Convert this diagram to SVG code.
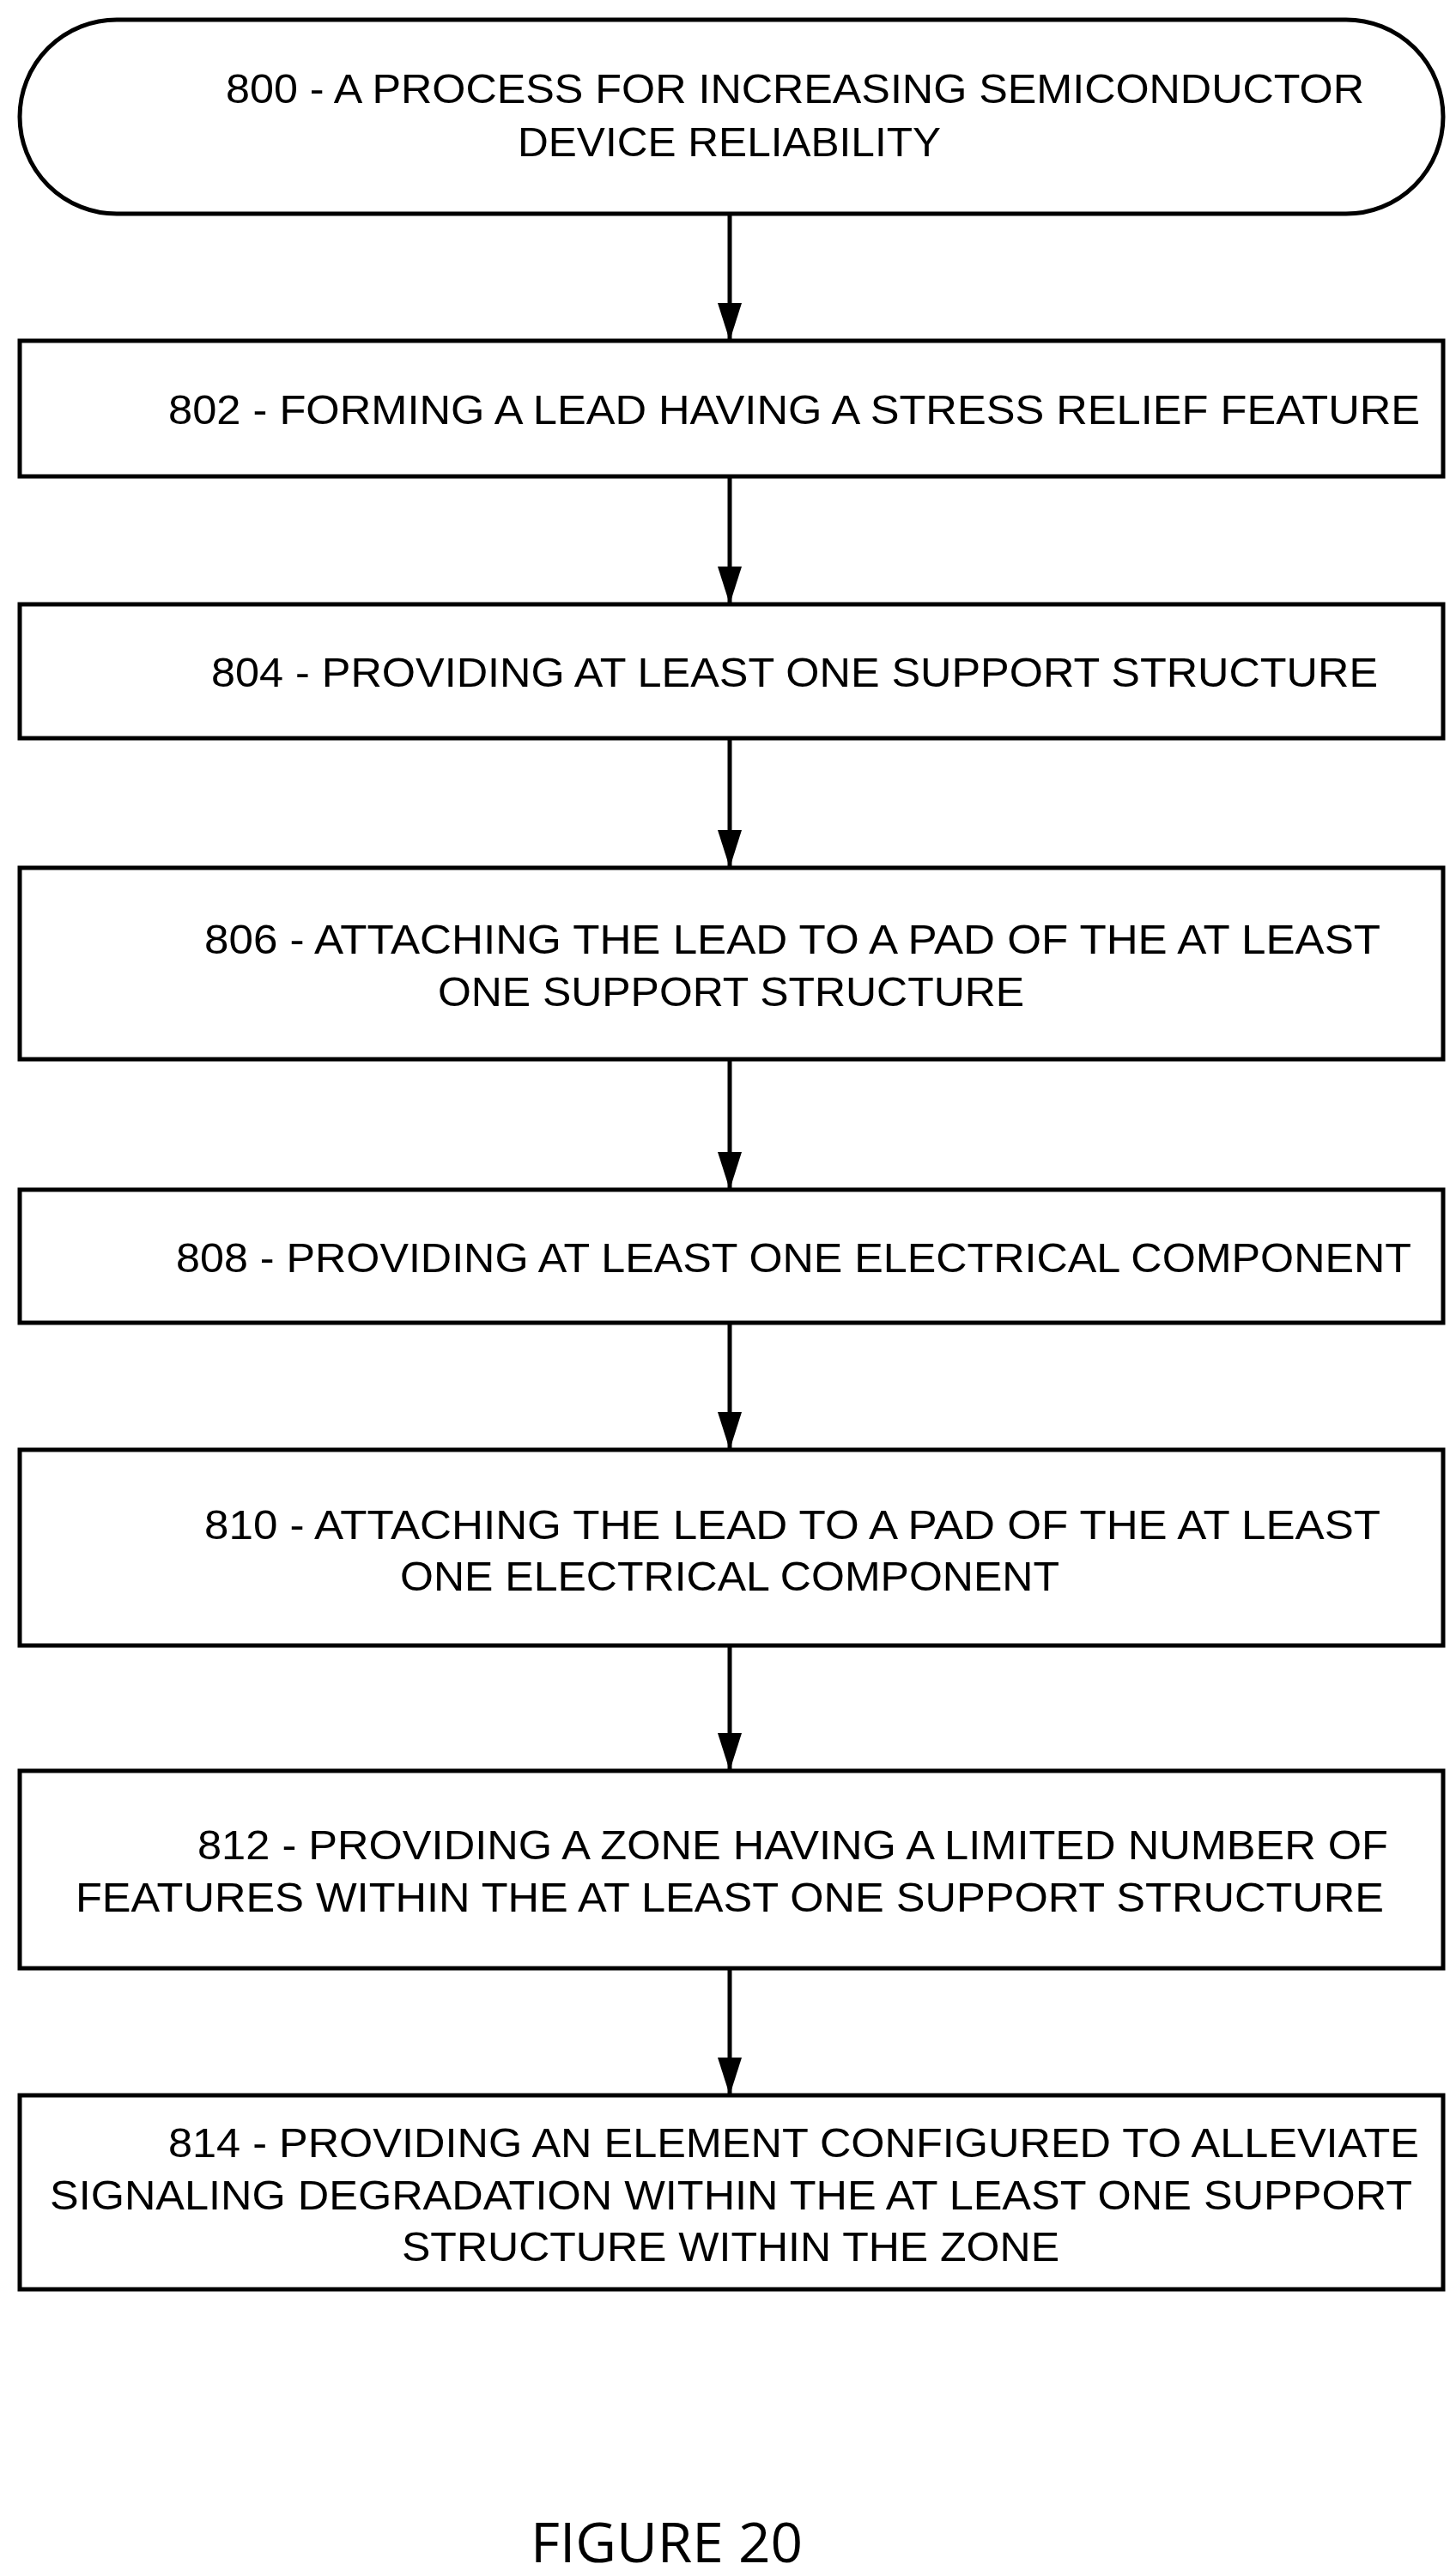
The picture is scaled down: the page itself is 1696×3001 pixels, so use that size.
<svg xmlns="http://www.w3.org/2000/svg" width="1696" height="3001" viewBox="0 0 1696 3001">
<style>
.b{fill:#fff;stroke:#000;stroke-width:5}
.t{font-family:"Liberation Sans",Arial,sans-serif;font-size:48px;fill:#000}
.c{stroke:#000;stroke-width:5;fill:none}
</style>
<defs><marker id="d" markerUnits="userSpaceOnUse" markerWidth="44" markerHeight="28" refX="44" refY="14" orient="auto" viewBox="0 0 44 28"><path d="M0,0 L44,14 L0,28 Z" fill="#000"/></marker></defs>
<rect width="1696" height="3001" fill="#fff"/>
<g id="n800"><rect class="b" x="23" y="23" width="1658" height="226" rx="113"/>
<text class="t" x="263" y="120" textLength="1326" lengthAdjust="spacingAndGlyphs">800 - A PROCESS FOR INCREASING SEMICONDUCTOR</text>
<text class="t" x="603" y="182" textLength="493" lengthAdjust="spacingAndGlyphs">DEVICE RELIABILITY</text></g>
<g id="n802"><rect class="b" x="23" y="397" width="1658" height="158"/>
<text class="t" x="196" y="494" textLength="1458" lengthAdjust="spacingAndGlyphs">802 - FORMING A LEAD HAVING A STRESS RELIEF FEATURE</text></g>
<g id="n804"><rect class="b" x="23" y="704" width="1658" height="156"/>
<text class="t" x="246" y="800" textLength="1359" lengthAdjust="spacingAndGlyphs">804 - PROVIDING AT LEAST ONE SUPPORT STRUCTURE</text></g>
<g id="n806"><rect class="b" x="23" y="1011" width="1658" height="223"/>
<text class="t" x="238" y="1111" textLength="1370" lengthAdjust="spacingAndGlyphs">806 - ATTACHING THE LEAD TO A PAD OF THE AT LEAST</text>
<text class="t" x="510" y="1172" textLength="683" lengthAdjust="spacingAndGlyphs">ONE SUPPORT STRUCTURE</text></g>
<g id="n808"><rect class="b" x="23" y="1386" width="1658" height="155"/>
<text class="t" x="205" y="1482" textLength="1439" lengthAdjust="spacingAndGlyphs">808 - PROVIDING AT LEAST ONE ELECTRICAL COMPONENT</text></g>
<g id="n810"><rect class="b" x="23" y="1689" width="1658" height="228"/>
<text class="t" x="238" y="1793" textLength="1370" lengthAdjust="spacingAndGlyphs">810 - ATTACHING THE LEAD TO A PAD OF THE AT LEAST</text>
<text class="t" x="466" y="1853" textLength="768" lengthAdjust="spacingAndGlyphs">ONE ELECTRICAL COMPONENT</text></g>
<g id="n812"><rect class="b" x="23" y="2063" width="1658" height="230"/>
<text class="t" x="230" y="2166" textLength="1387" lengthAdjust="spacingAndGlyphs">812 - PROVIDING A ZONE HAVING A LIMITED NUMBER OF</text>
<text class="t" x="88" y="2227" textLength="1524" lengthAdjust="spacingAndGlyphs">FEATURES WITHIN THE AT LEAST ONE SUPPORT STRUCTURE</text></g>
<g id="n814"><rect class="b" x="23" y="2441" width="1658" height="226"/>
<text class="t" x="196" y="2513" textLength="1457" lengthAdjust="spacingAndGlyphs">814 - PROVIDING AN ELEMENT CONFIGURED TO ALLEVIATE</text>
<text class="t" x="58" y="2574" textLength="1587" lengthAdjust="spacingAndGlyphs">SIGNALING DEGRADATION WITHIN THE AT LEAST ONE SUPPORT</text>
<text class="t" x="468" y="2634" textLength="766" lengthAdjust="spacingAndGlyphs">STRUCTURE WITHIN THE ZONE</text></g>
<g id="connectors">
<path class="c" d="M850,249 V397" marker-end="url(#d)"/>
<path class="c" d="M850,555 V704" marker-end="url(#d)"/>
<path class="c" d="M850,860 V1011" marker-end="url(#d)"/>
<path class="c" d="M850,1234 V1386" marker-end="url(#d)"/>
<path class="c" d="M850,1541 V1689" marker-end="url(#d)"/>
<path class="c" d="M850,1917 V2063" marker-end="url(#d)"/>
<path class="c" d="M850,2293 V2441" marker-end="url(#d)"/>
</g>
<text x="618" y="2985" font-family="'Open Sans','Liberation Sans',sans-serif" font-size="64" textLength="317" lengthAdjust="spacingAndGlyphs">FIGURE 20</text>
</svg>
